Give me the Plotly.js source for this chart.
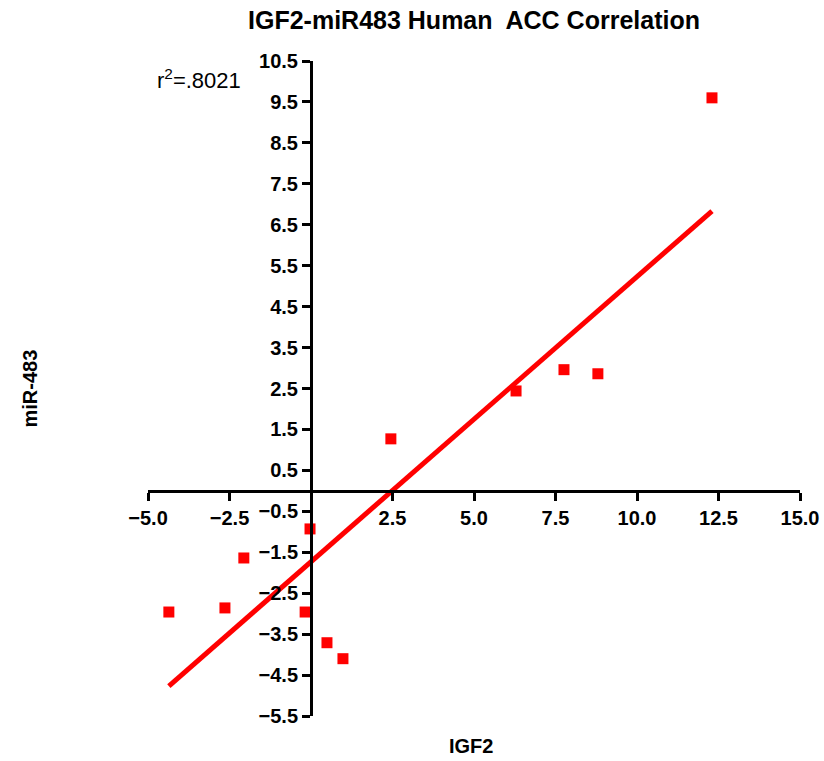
<!DOCTYPE html>
<html>
<head>
<meta charset="utf-8">
<script src="https://cdn.plot.ly/plotly-3.0.1.min.js"></script>
<style>
  html, body { margin: 0; padding: 0; background: #fff; }
  #chart { width: 824px; height: 761px; }
</style>
</head>
<body>
<div id="chart"></div>
<script>
// IGF2 expression vs miR-483 expression, human ACC samples
const igf2 =   [12.3, 7.76, 8.8, 6.29, 2.45, -0.03, -2.06, -2.64, -4.36, -0.18, 0.49, 0.98];
const mir483 = [9.6, 2.96, 2.86, 2.44, 1.27, -0.93, -1.64, -2.86, -2.96, -2.96, -3.71, -4.10];

const xRange = [-5, 15];
const yRange = [-5.5, 10.5];
const xTicks = [-5, -2.5, 2.5, 5, 7.5, 10, 12.5, 15];
const yTicks = [-5.5, -4.5, -3.5, -2.5, -1.5, -0.5, 0.5, 1.5, 2.5, 3.5, 4.5, 5.5, 6.5, 7.5, 8.5, 9.5, 10.5];
const rSquaredLabel = 'r<sup>2</sup>=.8021';

// least-squares fit through the samples, drawn across the sampled IGF2 span
const n = igf2.length;
const mx = igf2.reduce((a, b) => a + b, 0) / n;
const my = mir483.reduce((a, b) => a + b, 0) / n;
let sxy = 0, sxx = 0;
for (let i = 0; i < n; i++) {
  sxy += (igf2[i] - mx) * (mir483[i] - my);
  sxx += (igf2[i] - mx) * (igf2[i] - mx);
}
const slope = sxy / sxx;
const intercept = my - slope * mx;
const fitX = [Math.min(...igf2), Math.max(...igf2)];
const fitY = fitX.map(x => intercept + slope * x);

const font = 'Liberation Sans, Arial, Helvetica, sans-serif';

const traces = [
  {
    x: fitX, y: fitY, mode: 'lines', type: 'scatter',
    line: { color: '#ff0000', width: 5 },
    hoverinfo: 'skip'
  },
  {
    x: igf2, y: mir483, mode: 'markers', type: 'scatter',
    marker: { symbol: 'square', size: 11, color: '#ff0000' }
  }
];

// axes cross at the data origin
const xAxisPos = (0 - yRange[0]) / (yRange[1] - yRange[0]);
const yAxisPos = (0 - xRange[0]) / (xRange[1] - xRange[0]);

const tickFont = { family: font, size: 20, color: '#000', weight: 'bold' };

const layout = {
  width: 824, height: 761,
  margin: { l: 148, r: 24, t: 61, b: 45 },
  paper_bgcolor: '#fff', plot_bgcolor: '#fff',
  showlegend: false,
  font: { family: font, color: '#000' },
  title: {
    text: '<b>IGF2-miR483 Human\u00a0 ACC Correlation</b>',
    font: { family: font, size: 25, color: '#000' },
    x: 0.5, xref: 'paper', xanchor: 'center',
    y: 1 - 20 / 761, yref: 'container', yanchor: 'middle'
  },
  xaxis: {
    range: xRange, domain: [0, 1],
    anchor: 'free', position: xAxisPos,
    showgrid: false, zeroline: false,
    showline: true, linecolor: '#000', linewidth: 3,
    ticks: 'outside', ticklen: 8, tickwidth: 3, tickcolor: '#000',
    tickvals: xTicks, tickformat: '.1f',
    tickfont: tickFont
  },
  yaxis: {
    range: yRange, domain: [0, 1],
    anchor: 'free', position: yAxisPos,
    showgrid: false, zeroline: false,
    showline: true, linecolor: '#000', linewidth: 3,
    ticks: 'outside', ticklen: 8, tickwidth: 3, tickcolor: '#000',
    tickvals: yTicks, tickformat: '.1f',
    tickfont: tickFont
  },
  annotations: [
    {
      text: rSquaredLabel, xref: 'paper', yref: 'paper',
      x: 0.011, y: 0.972, xanchor: 'left', yanchor: 'middle',
      showarrow: false, font: { family: font, size: 22, color: '#000' }
    },
    {
      text: '<b>IGF2</b>', xref: 'paper', yref: 'paper',
      x: 0.495, y: -0.046, xanchor: 'center', yanchor: 'middle',
      showarrow: false, font: { family: font, size: 20, color: '#000' }
    },
    {
      text: '<b>miR-483</b>', xref: 'paper', yref: 'paper',
      x: -0.181, y: 0.5, xanchor: 'center', yanchor: 'middle', textangle: -90,
      showarrow: false, font: { family: font, size: 20, color: '#000' }
    }
  ]
};

Plotly.newPlot('chart', traces, layout, { displayModeBar: false, staticPlot: true });
</script>
</body>
</html>
